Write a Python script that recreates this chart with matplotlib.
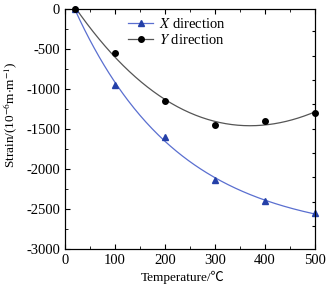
import numpy as np
import matplotlib
matplotlib.use("Agg")
import matplotlib.pyplot as plt
from matplotlib.ticker import MultipleLocator, FuncFormatter

plt.rcParams['font.family'] = ['Liberation Serif', 'Noto Sans CJK SC', 'DejaVu Sans']
plt.rcParams['mathtext.fontset'] = 'stix'

temp = [20, 100, 200, 300, 400, 500]
x_strain = [0, -950, -1600, -2140, -2400, -2550]
y_strain = [0, -550, -1150, -1450, -1400, -1300]


def exp_fit(x, y, linear):
    x = np.asarray(x, float)
    y = np.asarray(y, float)
    best = None
    for t in np.linspace(50, 1000, 400):
        cols = [np.ones_like(x), np.exp(-x / t)]
        if linear:
            cols.append(x)
        A = np.vstack(cols).T
        c, *_ = np.linalg.lstsq(A, y, rcond=None)
        r = np.sum((A @ c - y) ** 2)
        if best is None or r < best[0]:
            best = (r, t, c)
    _, t, c = best

    def f(xx):
        cols = [np.ones_like(xx), np.exp(-xx / t)]
        if linear:
            cols.append(xx)
        return np.vstack(cols).T @ c
    return f


fig = plt.figure(figsize=(3.29, 2.89), dpi=100)
ax = fig.add_axes([65/329, 1-249/289, 250/329, 240/289])

tt = np.linspace(20, 500, 200)
fx = exp_fit(temp, x_strain, False)
fy = exp_fit(temp, y_strain, True)

ax.plot(tt, fx(tt), color='#5a6fd0', lw=0.9)
ax.plot(tt, fy(tt), color='#555555', lw=0.9)
ax.plot(temp, x_strain, '^', color='#2440a8', ms=5, clip_on=False, zorder=3)
ax.plot(temp, y_strain, 'o', color='black', ms=4, clip_on=False, zorder=3)

hx, = ax.plot([], [], '-^', color='#5a6fd0', mfc='#2440a8', mec='#2440a8', ms=5, lw=0.9)
hy, = ax.plot([], [], '-o', color='#555555', mfc='black', mec='black', ms=4, lw=0.9)
ax.legend([hx, hy], [r'$X$ direction', r'$Y$ direction'], loc='upper left',
          bbox_to_anchor=(0.2, 1.02), frameon=False, fontsize=10.5,
          handlelength=1.7, handletextpad=0.4, labelspacing=0.1)

ax.set_xlim(0, 500)
ax.set_ylim(-3000, 0)
ax.xaxis.set_major_locator(MultipleLocator(100))
ax.xaxis.set_minor_locator(MultipleLocator(50))
ax.yaxis.set_major_locator(MultipleLocator(500))
ax.yaxis.set_minor_locator(MultipleLocator(250))
ax.tick_params(which='both', direction='in', top=True, right=False, labelsize=10.5)
ax.tick_params(which='major', length=3.5)
ax.tick_params(which='minor', length=2)
ax.yaxis.set_major_formatter(FuncFormatter(lambda v, p: f'{int(v)}'))
ax.set_xlabel('Temperature/℃', fontsize=9.5)
ax.xaxis.set_label_coords(0.47, -0.09)
ax.set_ylabel(r'Strain/(10$^{-6}$m$\cdot$m$^{-1}$)', fontsize=9.5)
ax.yaxis.set_label_coords(-0.18, 0.56)

# right-hand frame ticks (unlabelled, own spacing as in the reference)
ax2 = ax.twinx()
ax2.set_ylim(ax.get_ylim())
ax2.set_yticks(np.arange(-280, -3000, -304))
ax2.tick_params(direction='in', length=2.5, labelright=False)

fig.savefig('out.png', dpi=100)
